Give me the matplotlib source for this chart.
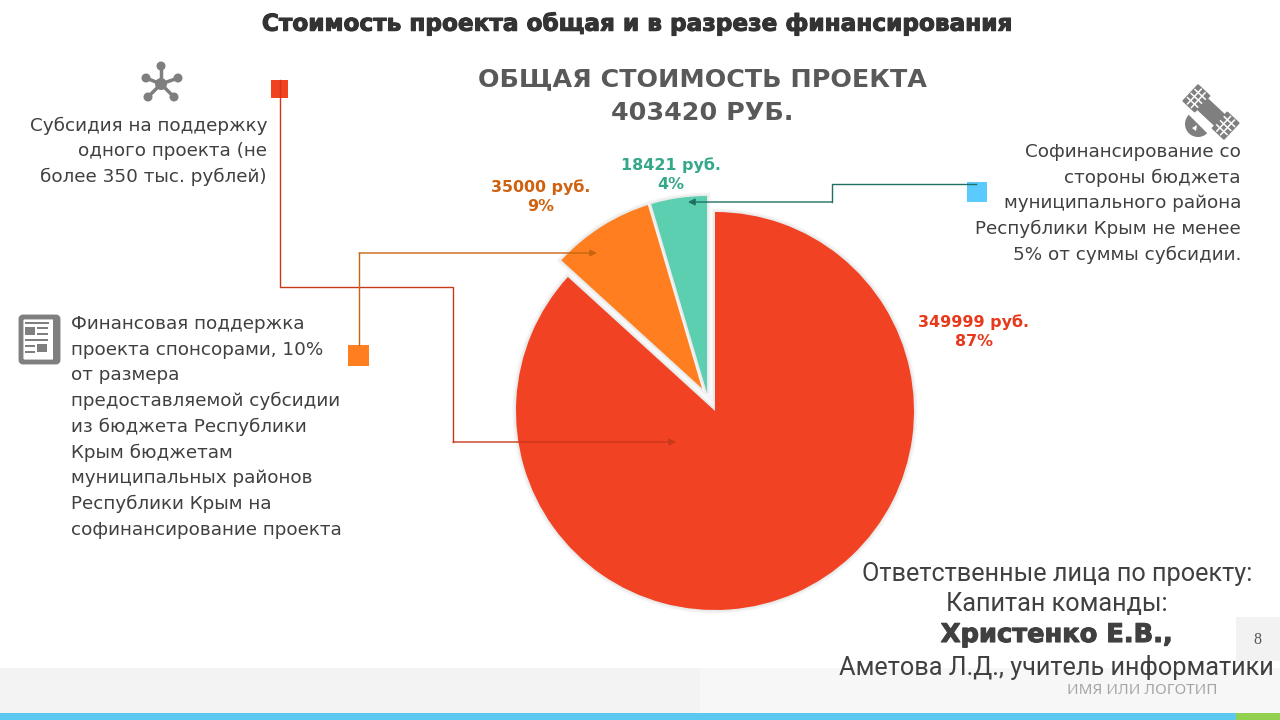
#!/usr/bin/env python
import matplotlib
matplotlib.use('Agg')
import matplotlib.pyplot as plt
import matplotlib.patheffects as pe
from matplotlib.patches import Rectangle, Circle, Polygon, Wedge, FancyBboxPatch
from matplotlib.transforms import Affine2D

# pie data
pie_labels = ['349999 руб.\n87%', '35000 руб.\n9%', '18421 руб.\n4%']
pie_values = [349999, 35000, 18421]
pie_colors = ['#F14223', '#FF7F20', '#5CCFB0']
label_colors = ['#E8391C', '#D0620F', '#35A88A']

title = 'Стоимость проекта общая и в разрезе финансирования'
total_lines = ['ОБЩАЯ СТОИМОСТЬ ПРОЕКТА', '403420 РУБ.']
note_red = ['Субсидия на поддержку', 'одного проекта (не', 'более 350 тыс. рублей)']
note_blue = ['Софинансирование со', 'стороны бюджета', 'муниципального района',
             'Республики Крым не менее', '5% от суммы субсидии.']
note_orange = ['Финансовая поддержка', 'проекта спонсорами, 10%', 'от размера',
               'предоставляемой субсидии', 'из бюджета Республики',
               'Крым бюджетам', 'муниципальных районов',
               'Республики Крым на', 'софинансирование проекта']
people = ['Ответственные лица по проекту:', 'Капитан команды:']

TXT = '#404040'
GREY = '#7F7F7F'
BODY = 'DejaVu Sans'

fig = plt.figure(figsize=(12.8, 7.2), dpi=100)
ax = fig.add_axes([0, 0, 1, 1])

# footer
ax_bg = [
    Rectangle((0, 668), 1280, 45, color='#F3F3F3', lw=0, zorder=0),
    Rectangle((700, 668), 580, 45, color='#F7F7F7', lw=0, zorder=0),
    Rectangle((0, 713), 1236, 7, color='#5BC8F0', lw=0, zorder=1),
    Rectangle((1236, 713), 44, 7, color='#92D050', lw=0, zorder=1),
    Rectangle((1236, 617), 44, 44, color='#F2F2F2', lw=0, zorder=1),
]

# y axis runs downward here, so angles turn clockwise on screen
wedges, _ = ax.pie(pie_values, colors=pie_colors, startangle=-90, counterclock=True,
                   radius=199, center=(715, 411),
                   wedgeprops=dict(linewidth=0, zorder=3))
wedges[1].set_center((707, 393))
wedges[2].set_center((707, 393))
wedges[1].set_radius(197)
wedges[2].set_radius(197)
for w in wedges:
    w.set_path_effects([pe.Stroke(linewidth=5, foreground='#F5F5F5'),
                        pe.Stroke(linewidth=2.5, foreground='#EAEAEA'), pe.Normal()])
wedges[0].set_zorder(2.5)

ax.set_xlim(0, 1280)
ax.set_ylim(720, 0)
ax.set_aspect('auto')
for p in ax_bg:
    ax.add_patch(p)

# titles
ax.text(637, 24, title, ha='center', va='center', fontsize=16.7, fontweight='bold',
        family='DejaVu Sans', color='#333333',
        path_effects=[pe.withStroke(linewidth=0.8, foreground='#333333')], zorder=6)
ax.text(702, 79, total_lines[0], ha='center', va='center', fontsize=18.3,
        fontweight='bold', family=BODY, color='#595959', zorder=6)
ax.text(702, 113, total_lines[1], ha='center', va='center', fontsize=18.3,
        fontweight='bold', family=BODY, color='#595959', zorder=6)

# value labels
ax.text(974, 332, pie_labels[0], ha='center', va='center', fontsize=11.4, fontweight='bold',
        family=BODY, color=label_colors[0], linespacing=1.35, zorder=6)
ax.text(541, 197, pie_labels[1], ha='center', va='center', fontsize=11.4, fontweight='bold',
        family=BODY, color=label_colors[1], linespacing=1.35, zorder=6)
ax.text(671, 175, pie_labels[2], ha='center', va='center', fontsize=11.4, fontweight='bold',
        family=BODY, color=label_colors[2], linespacing=1.35, zorder=6)


def text_block(lines, x, y0, step, ha):
    for i, line in enumerate(lines):
        ax.text(x, y0 + i * step, line, ha=ha, va='center', fontsize=13.25,
                family=BODY, color=TXT, zorder=6)


text_block(note_red, 267, 126, 25.5, 'right')
text_block(note_blue, 1241, 152, 25.6, 'right')
text_block(note_orange, 71, 324, 25.7, 'left')

# connectors
def connector(xs, ys, end, color):
    ax.plot(xs, ys, color=color, lw=1, zorder=5, solid_joinstyle='miter')
    ax.annotate('', xy=end, xytext=(xs[-1], ys[-1]), zorder=5,
                arrowprops=dict(arrowstyle='-|>', color=color, lw=1, shrinkA=0, shrinkB=0,
                                mutation_scale=10))


ax.add_patch(Rectangle((271, 80), 17, 18, color='#F2421F', lw=0, zorder=4))
ax.add_patch(Rectangle((348, 345), 21, 21, color='#FF7F20', lw=0, zorder=4))
ax.add_patch(Rectangle((967, 182), 20, 20, color='#5BCBFF', lw=0, zorder=4))
connector([280, 280, 453, 453], [80, 287, 287, 442], (676, 442), '#C8391C')
connector([359, 359], [345, 253], (597, 253), '#C8640F')
connector([976, 832, 832], [184, 184, 202], (688, 202), '#1F6F63')

# network icon
hub = (161, 84)
spokes = [(161, 66), (178, 78), (174, 97), (148, 97), (146, 78)]
for sx, sy in spokes:
    ax.plot([hub[0], sx], [hub[1], sy], color=GREY, lw=2.5, zorder=4)
    ax.add_patch(Circle((sx, sy), 4.5, color=GREY, lw=0, zorder=4))
ax.add_patch(Circle(hub, 6, color=GREY, lw=0, zorder=4))

# newspaper icon
ax.add_patch(FancyBboxPatch((21, 317), 37, 45, boxstyle='round,pad=0,rounding_size=2',
                            fc='none', ec=GREY, lw=3.5, zorder=4))
ax.add_patch(Rectangle((53, 319), 5, 44, color=GREY, lw=0, zorder=4))
ax.add_patch(Rectangle((25, 327), 10, 8, color=GREY, lw=0, zorder=4))
ax.add_patch(Rectangle((37, 344), 10, 8, color=GREY, lw=0, zorder=4))
for x0, y0, w in [(25, 322, 24), (37, 327, 11), (37, 333, 11), (25, 339, 23),
                  (25, 345, 10), (25, 351, 10)]:
    ax.add_patch(Rectangle((x0, y0), w, 2.2, color=GREY, lw=0, zorder=4))

# satellite icon, drawn flat and turned about its middle
rot = Affine2D().rotate_deg_around(1211, 112, 43) + ax.transData
for x0 in (1183, 1223):
    ax.add_patch(Rectangle((x0, 101), 16, 22, fc=GREY, ec=GREY, lw=1, zorder=4, transform=rot))
    for d in (5.3, 10.6):
        ax.plot([x0 + d, x0 + d], [102, 122], color='white', lw=1.1, zorder=4.1, transform=rot)
    for y in (106.5, 112, 117.5):
        ax.plot([x0 + 1, x0 + 15], [y, y], color='white', lw=1.1, zorder=4.1, transform=rot)
ax.add_patch(Rectangle((1199, 104), 24, 16, color=GREY, lw=0, zorder=4, transform=rot))
ax.add_patch(Wedge((1198, 124), 13, 45, 225, color=GREY, lw=0, zorder=4))
ax.add_patch(Polygon([(1192, 128), (1197, 125), (1196, 131)], color='white', lw=0, zorder=4.1))

# lower right text
ax.text(1057, 574, people[0], ha='center', va='center', fontsize=18.2, family='Roboto',
        color=TXT, zorder=7)
ax.text(1057, 604, people[1], ha='center', va='center', fontsize=18.2, family='Roboto',
        color=TXT, zorder=7)
ax.text(1057, 635, 'Христенко Е.В.,', ha='center', va='center', fontsize=18.5,
        family='DejaVu Sans', fontweight='bold', color=TXT, zorder=7,
        path_effects=[pe.withStroke(linewidth=0.8, foreground=TXT)])
ax.text(1056, 668, 'Аметова Л.Д., учитель информатики', ha='center', va='center',
        fontsize=18.2, family='Roboto', color=TXT, zorder=7)
ax.text(1142, 691, 'ИМЯ ИЛИ ЛОГОТИП', ha='center', va='center', fontsize=11,
        family='Noto Sans', color='#A6A6A6', zorder=6)
ax.text(1257, 640, '8', ha='center', va='center', fontsize=11.5, family='Liberation Serif',
        color='#595959', zorder=6)

ax.axis('off')
fig.savefig('out.png', dpi=100)
